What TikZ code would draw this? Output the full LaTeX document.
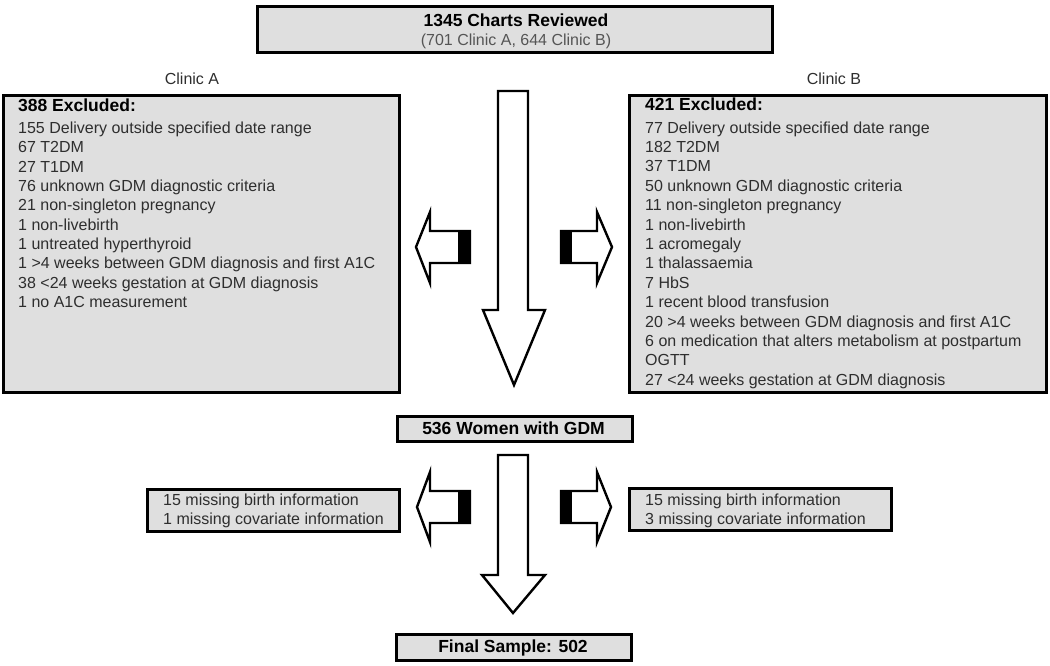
\documentclass[tikz,border=0pt]{standalone}
\usepackage{fontspec}
\setmainfont{Liberation Sans}
\definecolor{boxgray}{HTML}{DFDFDF}
\definecolor{bodytext}{HTML}{2E2E2E}
\definecolor{subtext}{HTML}{555555}
\begin{document}
\begin{tikzpicture}[x=1pt,y=-1pt,
  boxst/.style={draw=black, line width=3.4pt, fill=boxgray, inner sep=0pt, anchor=north west},
  body/.style={font=\fontsize{16}{19.4}\selectfont, text=bodytext, inner sep=0pt, anchor=base west},
  head/.style={font=\fontsize{17.5}{20}\selectfont\bfseries, text=black, inner sep=0pt},
  blockarrow/.style={draw=black, line width=2.4pt, fill=white, line join=miter},
  tailbar/.style={fill=black}
]
\useasboundingbox (0,0) rectangle (1050,665);

% ---------- boxes ----------
\node[boxst, minimum width=515, minimum height=46] (top) at (256,5) {};
\node[boxst, minimum width=396, minimum height=297] (exA) at (2,94) {};
\node[boxst, minimum width=417, minimum height=297] (exB) at (628,94) {};
\node[boxst, minimum width=235, minimum height=25] (mid) at (396,415) {};
\node[boxst, minimum width=252, minimum height=42] (misA) at (146,488) {};
\node[boxst, minimum width=262, minimum height=42] (misB) at (628,487) {};
\node[boxst, minimum width=235, minimum height=26] (fin) at (395,633) {};

% ---------- top texts ----------
\node[head, anchor=base] (ttitle) at (516,26.5) {1345 Charts Reviewed};
\node[font=\fontsize{16}{19}\selectfont, text=subtext, inner sep=0pt, anchor=base] (tsub) at (516,45.5) {(701 Clinic A, 644 Clinic B)};
\node[font=\fontsize{16}{19}\selectfont, text=bodytext, inner sep=0pt, anchor=base] (clA) at (192,84) {Clinic A};
\node[font=\fontsize{16}{19}\selectfont, text=bodytext, inner sep=0pt, anchor=base] (clB) at (834,84) {Clinic B};

% ---------- Clinic A exclusions ----------
\node[head, anchor=base west] (hA) at (18,111) {388 Excluded:};
\foreach \t [count=\i] in {155 Delivery outside specified date range,
  67 T2DM, 27 T1DM, 76 unknown GDM diagnostic criteria,
  21 non-singleton pregnancy, 1 non-livebirth, 1 untreated hyperthyroid,
  1 >4 weeks between GDM diagnosis and first A1C,
  38 <24 weeks gestation at GDM diagnosis, 1 no A1C measurement}
  \node[body] (la\i) at (18,{133.5+(\i-1)*19.35}) {\t};

% ---------- Clinic B exclusions ----------
\node[head, anchor=base west] (hB) at (645,110) {421 Excluded:};
\foreach \t [count=\i] in {77 Delivery outside specified date range,
  182 T2DM, 37 T1DM, 50 unknown GDM diagnostic criteria,
  11 non-singleton pregnancy, 1 non-livebirth, 1 acromegaly,
  1 thalassaemia, 7 HbS, 1 recent blood transfusion,
  20 >4 weeks between GDM diagnosis and first A1C,
  6 on medication that alters metabolism at postpartum, OGTT,
  27 <24 weeks gestation at GDM diagnosis}
  \node[body] (lb\i) at (645,{133+(\i-1)*19.4}) {\t};

% ---------- middle and final ----------
\node[head, anchor=base] (midt) at (513.5,434) {536 Women with GDM};
\node[head, anchor=base] (fint) at (513,652) {Final Sample: 502};

% ---------- missing info ----------
\node[body] (ma1) at (163,505) {15 missing birth information};
\node[body] (ma2) at (163,524) {1 missing covariate information};
\node[body] (mb1) at (645,505) {15 missing birth information};
\node[body] (mb2) at (645,524) {3 missing covariate information};

% ---------- central block arrows ----------
\draw[blockarrow] (498,91) -- (528,91) -- (528,310) -- (545,310) -- (514,385)
  -- (483,310) -- (498,310) -- cycle;
\draw[blockarrow] (498,455) -- (528,455) -- (528,575) -- (545,575) -- (513,613)
  -- (482,575) -- (498,575) -- cycle;

% ---------- side block arrows, row 1 ----------
\draw[blockarrow] (470,231) -- (430,231) -- (430,212) -- (416,247) -- (430,283)
  -- (430,263) -- (470,263) -- cycle;
\fill[tailbar] (458,231) rectangle (470,263);
\draw[blockarrow] (561,231) -- (597,231) -- (597,212) -- (612,247) -- (597,283)
  -- (597,263) -- (561,263) -- cycle;
\fill[tailbar] (561,231) rectangle (572,263);

% ---------- side block arrows, row 2 ----------
\draw[blockarrow] (470,491) -- (430,491) -- (430,472) -- (417,507) -- (430,542)
  -- (430,523) -- (470,523) -- cycle;
\fill[tailbar] (458,491) rectangle (470,523);
\draw[blockarrow] (561,491) -- (597,491) -- (597,472) -- (611,507) -- (597,542)
  -- (597,523) -- (561,523) -- cycle;
\fill[tailbar] (561,491) rectangle (572,523);
\end{tikzpicture}
\end{document}
